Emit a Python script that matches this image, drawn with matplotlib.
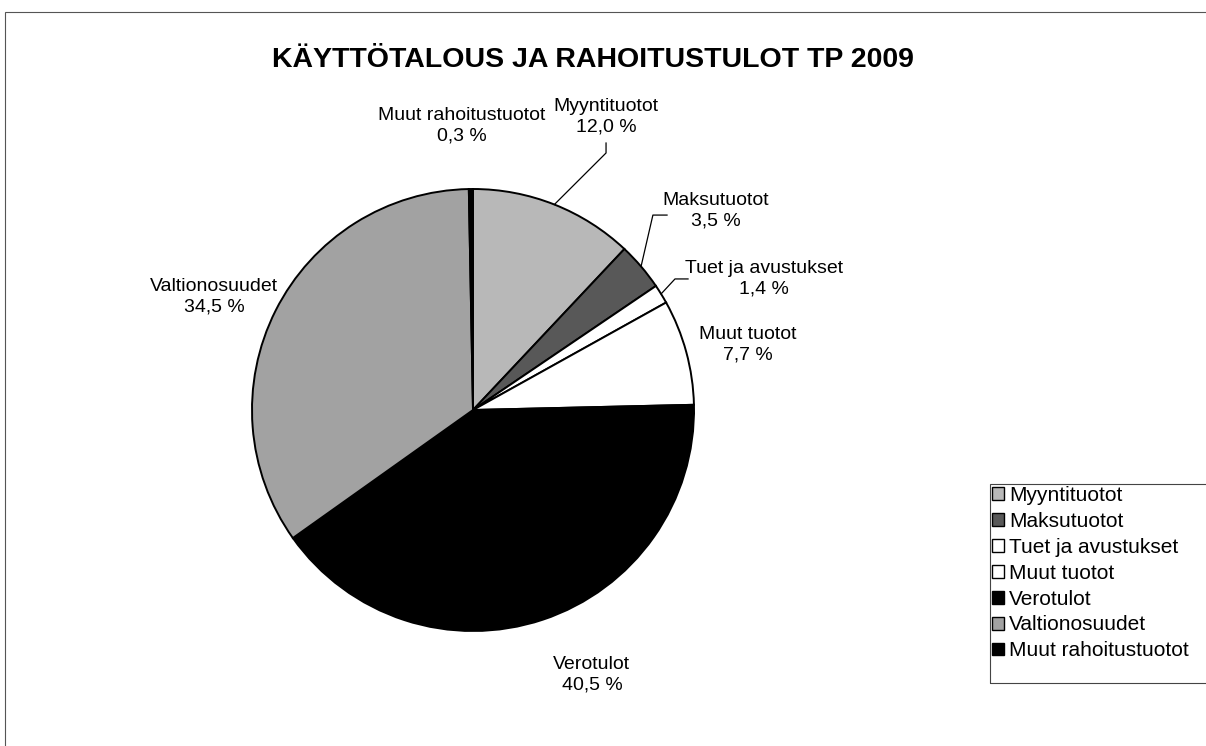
import numpy as np
import matplotlib.pyplot as plt
from matplotlib.patches import Rectangle, Patch

plt.rcParams['font.family'] = ['Liberation Sans', 'DejaVu Sans']

# data
labels = ["Myyntituotot", "Maksutuotot", "Tuet ja avustukset", "Muut tuotot",
          "Verotulot", "Valtionosuudet", "Muut rahoitustuotot"]
shares = [12.0, 3.5, 1.4, 7.7, 40.5, 34.5, 0.3]
colors = ["#b8b8b8", "#585858", "#ffffff", "#ffffff", "#000000", "#a2a2a2", "#000000"]

title = "KÄYTTÖTALOUS JA RAHOITUSTULOT TP 2009"

W, H = 1206, 746
fig = plt.figure(figsize=(W / 100, H / 100), dpi=100)

# outer frame (left + top visible, the rest runs off the page)
fig.patches.append(Rectangle((5 / W, -0.02), 1.2, (H - 12) / H + 0.02,
                             transform=fig.transFigure, fill=False,
                             edgecolor="#555555", linewidth=0.8))

# pie axes: centre ~ (473, 410) px, radius ~ 221 px
cx, cy, r = 473, 410, 221
ax = fig.add_axes([(cx - r) / W, (H - cy - r) / H, 2 * r / W, 2 * r / H])
ax.axis("off")

wedges, _ = ax.pie(shares, colors=colors, startangle=90, counterclock=False,
                   radius=1.0,
                   wedgeprops=dict(edgecolor="black", linewidth=1.4))
ax.set_xlim(-1, 1)
ax.set_ylim(-1, 1)
ax.set_aspect("equal")
for w in wedges:
    w.set_clip_on(False)

# label centres (axes data units)
label_pos = {
    "Myyntituotot": (0.602, 1.328),
    "Maksutuotot": (1.10, 0.90),
    "Tuet ja avustukset": (1.317, 0.593),
    "Muut tuotot": (1.244, 0.294),
    "Verotulot": (0.538, -1.197),
    "Valtionosuudet": (-1.172, 0.511),
    "Muut rahoitustuotot": (-0.05, 1.287),
}

for lab, val in zip(labels, shares):
    x, y = label_pos[lab]
    txt = f"{lab}\n{val:.1f} %".replace(".", ",")
    ax.text(x, y, txt, ha="center", va="center", fontsize=14,
            linespacing=1.28, clip_on=False)

# leader lines start at the wedge mid-angle on the rim
cum = np.cumsum([0] + shares[:-1])
mid = {lab: np.deg2rad(90 - (c + s / 2) * 3.6) for lab, c, s in zip(labels, cum, shares)}

def leader(lab, pts):
    a = mid[lab]
    xs = [np.cos(a)] + [p[0] for p in pts]
    ys = [np.sin(a)] + [p[1] for p in pts]
    ax.plot(xs, ys, color="black", linewidth=0.9, clip_on=False)

leader("Myyntituotot", [(0.602, 1.163), (0.602, 1.208)])
leader("Maksutuotot", [(0.814, 0.882), (0.878, 0.882)])
leader("Tuet ja avustukset", [(0.914, 0.593), (0.973, 0.593)])

fig.text(593 / W, 1 - 60 / H, title, ha="center", va="center",
         fontsize=20.5, fontweight="bold")

# legend with own frame running off the right edge
handles = [Patch(facecolor=c, edgecolor="black", linewidth=1.0) for c in colors]
leg = fig.legend(handles, labels, loc="upper left",
                 bbox_to_anchor=(990 / W, 1 - 484 / H),
                 fontsize=15, frameon=False,
                 handlelength=0.58, handleheight=0.58, handletextpad=0.25,
                 labelspacing=0.33, borderpad=0.1, borderaxespad=0)
fig.patches.append(Rectangle((990 / W, 1 - 683 / H), 0.2, (683 - 484) / H,
                             transform=fig.transFigure, fill=False,
                             edgecolor="#444444", linewidth=0.8))

fig.savefig("out.png", dpi=100)
